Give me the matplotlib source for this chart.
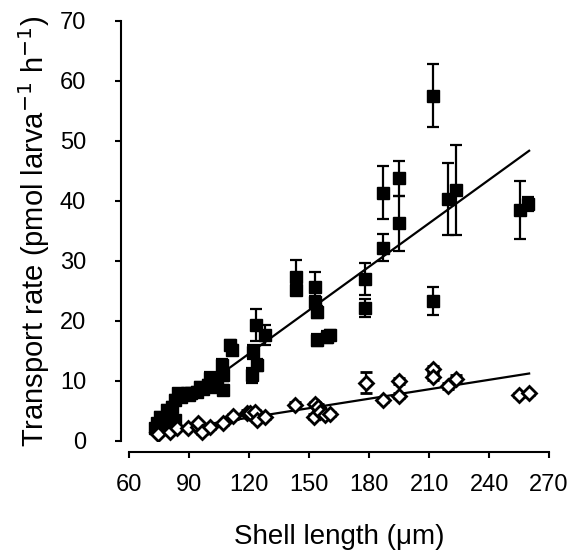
import numpy as np
import matplotlib.pyplot as plt

plt.rcParams["font.family"] = ["Liberation Sans", "DejaVu Sans"]

# filled squares (upper series)
fill_x = [72.9, 73.7, 75.4, 76.0, 77.9, 78.7, 79.5, 80.0, 81.2, 82.9, 82.9, 84.5,
          86.0, 88.7, 90.0, 91.0, 93.7, 95.4, 97.0, 99.5, 100.4, 103.0, 104.0,
          106.2, 107.0, 107.0, 110.4, 111.2, 121.2, 122.0, 123.7, 123.4,
          127.9, 143.4, 143.4, 152.9, 152.9, 153.7, 153.7, 158.7, 160.4, 177.9,
          177.9, 187.0, 187.0, 194.9, 194.9, 211.7, 211.7, 219.2, 223.3, 255.3, 259.5]
fill_y = [2.1, 2.9, 4.0, 3.2, 2.6, 5.1, 4.0, 4.8, 5.7, 6.8, 3.45, 7.9,
          7.3, 7.9, 7.6, 8.0, 8.2, 9.0, 8.6, 9.3, 10.4, 8.9, 10.0,
          12.6, 11.0, 8.5, 16.0, 15.1, 10.9, 14.8, 12.6, 19.3,
          17.6, 27.3, 25.1, 25.7, 23.2, 21.5, 16.8, 17.3, 17.6, 27.0,
          22.1, 41.3, 32.2, 43.7, 36.2, 57.5, 23.3, 40.2, 41.8, 38.4, 39.4]
fill_err = [0.6, 0.8, 0.8, 0.6, 0.6, 0.8, 0.6, 0.6, 0.8, 0.8, 0.6, 0.8,
            0.8, 0.8, 0.8, 0.8, 0.8, 0.8, 0.8, 0.8, 1.0, 0.8, 0.8,
            1.0, 1.0, 0.8, 0.8, 0.8, 1.2, 1.2, 1.0, 2.7,
            1.7, 2.8, 0.8, 2.5, 1.0, 1.0, 1.0, 1.0, 0.8, 2.7,
            1.5, 4.4, 2.3, 2.9, 4.5, 5.3, 2.4, 6.0, 7.5, 4.8, 1.2]

# open diamonds (lower series)
open_x = [73.7, 74.5, 80.4, 83.7, 89.5, 94.5, 94.5, 96.2, 100.4, 107.0, 112.0,
          118.7, 120.4, 122.9, 123.7, 127.9, 142.9, 152.4, 152.9, 154.5, 155.4,
          157.9, 160.4, 178.4, 187.0, 194.9, 194.9, 211.7, 211.7, 219.2, 223.3,
          255.0, 260.0]
open_y = [1.5, 1.2, 1.5, 2.1, 2.1, 2.3, 2.9, 1.5, 2.3, 2.9, 4.1,
          4.7, 4.6, 4.8, 3.45, 3.9, 6.0, 4.0, 6.1, 5.7, 4.8,
          4.3, 4.45, 9.7, 6.8, 10.0, 7.5, 11.9, 10.7, 9.1, 10.3,
          7.6, 7.9]
open_err = [0.3, 0.3, 0.3, 0.3, 0.3, 0.3, 0.3, 0.3, 0.3, 0.3, 0.4,
            0.4, 0.4, 0.4, 0.3, 0.3, 0.4, 0.4, 0.4, 0.4, 0.4,
            0.4, 0.4, 1.7, 0.4, 0.5, 0.4, 0.6, 0.6, 0.5, 0.6,
            0.3, 0.3]

# regression lines (slope, intercept, x range)
fill_fit = (0.2414, -14.44)
open_fit = (0.0525, -2.45)
fit_x = [73.0, 260.0]

fig = plt.figure(figsize=(5.72, 5.59), dpi=100)
ax = fig.add_axes([0.226, 0.2116, 0.734, 0.7514])

ax.errorbar(fill_x, fill_y, yerr=fill_err, fmt="s", color="black", ms=8,
            mfc="black", mec="black", ecolor="black", elinewidth=1.6,
            capsize=4.5, capthick=1.6, zorder=3)
ax.errorbar(open_x, open_y, yerr=open_err, fmt="D", color="black", ms=7.5,
            mfc="white", mec="black", mew=2, ecolor="black", elinewidth=1.6,
            capsize=4.5, capthick=1.6, zorder=3)

fx = np.array(fit_x)
ax.plot(fx, fill_fit[0] * fx + fill_fit[1], color="black", lw=1.6, zorder=2)
ax.plot(fx, open_fit[0] * fx + open_fit[1], color="black", lw=1.6, zorder=2)

ax.set_xlim(60, 270)
ax.set_ylim(0, 70)
ax.set_xticks(np.arange(60, 271, 30))
ax.set_yticks(np.arange(0, 71, 10))

for s in ["top", "right"]:
    ax.spines[s].set_visible(False)
ax.spines["left"].set_position(("outward", 6))
ax.spines["bottom"].set_position(("outward", 8))
for s in ["left", "bottom"]:
    ax.spines[s].set_linewidth(1.5)
ax.tick_params(width=1.5, length=4, labelsize=17)
ax.tick_params(axis="x", pad=12)
ax.tick_params(axis="y", pad=21)

ax.set_xlabel("Shell length (μm)", fontsize=20, labelpad=20)
ax.set_ylabel("Transport rate (pmol larva$^{-1}$ h$^{-1}$)", fontsize=21, labelpad=6)

fig.savefig("out.png", dpi=100)
